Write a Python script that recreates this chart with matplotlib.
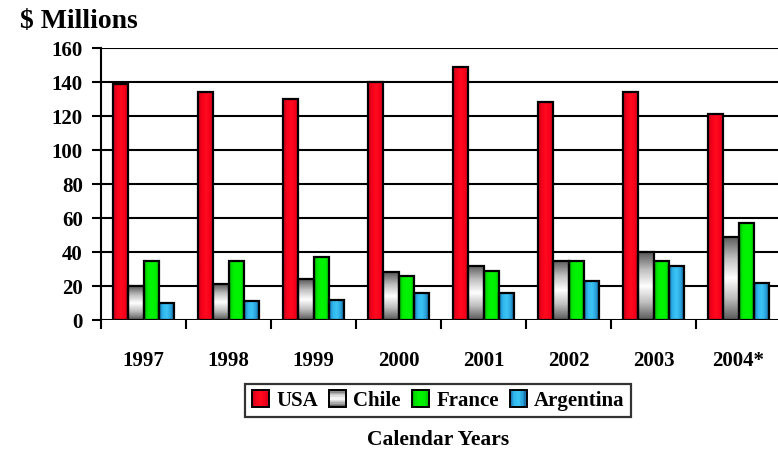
import numpy as np
import matplotlib
matplotlib.use("Agg")
import matplotlib.pyplot as plt
from matplotlib.patches import Rectangle
from matplotlib.legend_handler import HandlerBase
from matplotlib.colors import LinearSegmentedColormap

years = ["1997", "1998", "1999", "2000", "2001", "2002", "2003", "2004*"]
series_names = ["USA", "Chile", "France", "Argentina"]
usa = [139, 134, 130, 140, 149, 128, 134, 121]
chile = [20, 21, 24, 28, 32, 35, 40, 49]
france = [35, 35, 37, 26, 29, 35, 35, 57]
argentina = [10, 11, 12, 16, 16, 23, 32, 22]
y_ticks = [0, 20, 40, 60, 80, 100, 120, 140, 160]

plt.rcParams["font.family"] = ["Liberation Serif", "DejaVu Serif"]
plt.rcParams["font.weight"] = "bold"

# gradient definitions: (colour stops, direction)
grad_styles = {
    "USA": (["#C8001A", "#F5001A", "#FF0A1E", "#F5001A", "#C8001A"], "h"),
    "Chile": (["#5A5A5A", "#BDBDBD", "#FFFFFF", "#BDBDBD", "#5A5A5A"], "v"),
    "France": (["#00B800", "#00EE00", "#00F500", "#00EE00", "#00B800"], "h"),
    "Argentina": (["#1A78B8", "#30B8EE", "#3CC4F5", "#2AA0DA", "#0A4E80"], "h"),
}


def gradient_image(stops, direction, n=64):
    cmap = LinearSegmentedColormap.from_list("g", stops)
    vals = np.linspace(0, 1, n)
    rgba = cmap(vals)
    if direction == "h":
        return rgba[np.newaxis, :, :]
    return rgba[:, np.newaxis, :]


fig = plt.figure(figsize=(7.78, 4.52), dpi=100)
ax = fig.add_axes([101 / 778, 131 / 452, 680 / 778, 272 / 452])

data = [usa, chile, france, argentina]
n_cat = len(years)
width = 0.181
x_centers = np.arange(n_cat) + 0.5

for k, (name, vals) in enumerate(zip(series_names, data)):
    pos = x_centers + (k - 1.5) * width
    bars = ax.bar(pos, vals, width=width, facecolor="none", edgecolor="black",
                  linewidth=1.6, zorder=4)
    stops, direction = grad_styles[name]
    img = gradient_image(stops, direction)
    for b in bars:
        x0, y0 = b.get_x(), b.get_y()
        w, h = b.get_width(), b.get_height()
        im = ax.imshow(img, extent=[x0, x0 + w, y0, y0 + h], origin="lower",
                       aspect="auto", interpolation="bilinear", zorder=3)
        im.set_clip_path(b)

ax.set_xlim(0, n_cat)
ax.set_ylim(0, 160)
ax.set_aspect("auto")

ax.set_yticks(y_ticks)
ax.yaxis.grid(True, color="black", linewidth=1.5, zorder=1)
ax.set_axisbelow(True)
ax.tick_params(axis="y", direction="out", length=6.5, width=1.5,
               labelsize=15, pad=6.5)

ax.set_xticks(np.arange(n_cat + 1))
ax.set_xticklabels([])
ax.set_xticks(x_centers, minor=True)
ax.set_xticklabels(years, minor=True)
ax.tick_params(axis="x", which="major", direction="out", length=6.5, width=1.5)
ax.tick_params(axis="x", which="minor", length=0, labelsize=15, pad=21.5)

for s in ["top", "right", "bottom"]:
    ax.spines[s].set_visible(False)
ax.spines["left"].set_linewidth(1.5)
ax.spines["left"].set_bounds(0, 160)

fig.text(20 / 778, 1 - 21 / 452, "$ Millions", fontsize=20, fontweight="bold",
         ha="left", va="center")


class GradientHandler(HandlerBase):
    def __init__(self, stops, direction):
        super().__init__()
        self.stops = stops
        self.direction = direction

    def create_artists(self, legend, orig_handle, xdescent, ydescent,
                       width, height, fontsize, trans):
        cmap = LinearSegmentedColormap.from_list("g", self.stops)
        size = height * 1.15
        x0 = -xdescent + (width - size) / 2
        y0 = -ydescent + (height - size) / 2
        arts = []
        n = 12
        for i in range(n):
            c = cmap((i + 0.5) / n)
            if self.direction == "h":
                r = Rectangle((x0 + size * i / n, y0), size / n + 0.3, size,
                              facecolor=c, edgecolor="none", transform=trans)
            else:
                r = Rectangle((x0, y0 + size * i / n), size, size / n + 0.3,
                              facecolor=c, edgecolor="none", transform=trans)
            arts.append(r)
        arts.append(Rectangle((x0, y0), size, size, facecolor="none",
                              edgecolor="black", linewidth=1.4, transform=trans))
        return arts


handles = [Rectangle((0, 0), 1, 1) for _ in series_names]
handler_map = {h: GradientHandler(*grad_styles[n]) for h, n in zip(handles, series_names)}
leg = fig.legend(handles, series_names, handler_map=handler_map, ncol=4,
                 loc="center", bbox_to_anchor=(438 / 778, 1 - 401.5 / 452),
                 prop={"size": 15, "weight": "bold"}, frameon=True,
                 fancybox=False, edgecolor="black", handlelength=0.9,
                 handletextpad=0.3, columnspacing=0.5, borderpad=0.3,
                 borderaxespad=0)
leg.get_frame().set_linewidth(1.6)

fig.text(438 / 778, 1 - 440 / 452, "Calendar Years", fontsize=15.5,
         fontweight="bold", ha="center", va="center")

fig.savefig("out.png", dpi=100)
